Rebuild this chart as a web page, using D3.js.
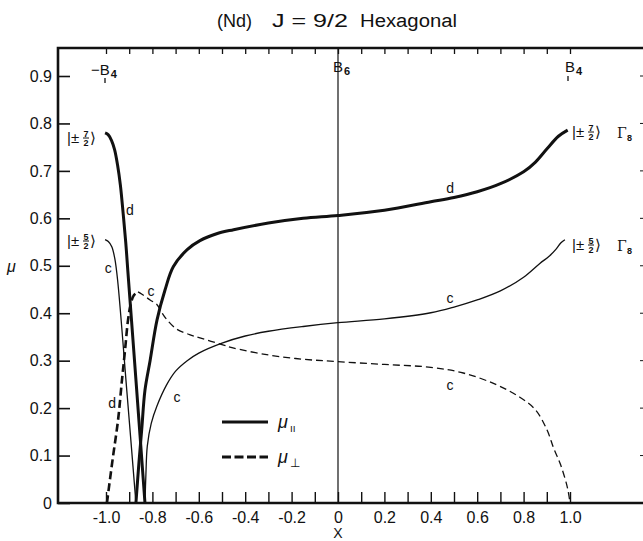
<!DOCTYPE html>
<html>
<head>
<meta charset="utf-8">
<script src="https://cdn.jsdelivr.net/npm/d3@7"></script>
<style>
  body { margin: 0; background: #fff; }
  svg { display: block; }
  text { font-family: "Liberation Sans", Arial, sans-serif; fill: #111; }
</style>
</head>
<body>
<svg id="chart" width="643" height="541"></svg>
<script>
// ---- magnetic moment curves, mu vs X (each entry is [X, mu]) ----
// mu parallel, level d (|±7/2> at X = ±1)
const parD_left = [[-1.004,0.780],[-0.99,0.776],[-0.976,0.764],[-0.963,0.745],[-0.95,0.712],[-0.938,0.67],[-0.926,0.61],[-0.915,0.55],[-0.906,0.49],[-0.868,0.24],[-0.832,0.0]];
const parD_right = [[-0.871,0.0],[-0.858,0.085],[-0.846,0.155],[-0.832,0.238],[-0.81,0.3],[-0.78,0.386],[-0.745,0.45],[-0.71,0.498],[-0.65,0.534],[-0.595,0.553],[-0.52,0.568],[-0.45,0.576],[-0.3,0.59],[-0.15,0.6],[0,0.606],[0.2,0.617],[0.4,0.635],[0.5,0.644],[0.6,0.656],[0.7,0.673],[0.8,0.698],[0.85,0.718],[0.9,0.746],[0.95,0.773],[0.99,0.786]];
// mu parallel, level c (|±5/2> at X = ±1)
const parC_left = [[-1.004,0.555],[-0.99,0.551],[-0.975,0.54],[-0.962,0.515],[-0.95,0.47],[-0.91,0.235],[-0.871,0.0]];
const parC_right = [[-0.832,0.0],[-0.828,0.06],[-0.822,0.12],[-0.805,0.168],[-0.78,0.205],[-0.74,0.248],[-0.7,0.278],[-0.65,0.3],[-0.6,0.316],[-0.5,0.337],[-0.4,0.352],[-0.3,0.362],[-0.15,0.372],[0,0.38],[0.2,0.388],[0.4,0.401],[0.5,0.413],[0.6,0.428],[0.7,0.447],[0.8,0.476],[0.87,0.505],[0.91,0.52],[0.94,0.535],[0.96,0.548],[0.978,0.555]];
// mu perpendicular, level d and level c
const perpD = [[-0.996,0.0],[-0.972,0.09],[-0.948,0.175],[-0.931,0.26],[-0.918,0.322],[-0.905,0.386],[-0.893,0.42],[-0.88,0.438],[-0.862,0.445]];
const perpC = [[-0.862,0.445],[-0.845,0.44],[-0.81,0.428],[-0.78,0.418],[-0.76,0.402],[-0.737,0.386],[-0.694,0.366],[-0.64,0.355],[-0.595,0.348],[-0.5,0.334],[-0.453,0.327],[-0.3,0.312],[-0.15,0.303],[0,0.298],[0.2,0.292],[0.4,0.286],[0.54,0.274],[0.68,0.25],[0.78,0.224],[0.85,0.197],[0.9,0.155],[0.93,0.115],[0.96,0.08],[0.99,0.03],[1.0,0.0]];

// ---- ticks and labels ----
const yTicks = [0, 0.1, 0.2, 0.3, 0.4, 0.5, 0.6, 0.7, 0.8, 0.9];
const xTicks = d3.range(-10, 11).map(i => i / 10);
const xLabelled = [-1.0, -0.8, -0.6, -0.4, -0.2, 0, 0.2, 0.4, 0.6, 0.8, 1.0];
const topMarkX = [-1, 0, 1];
const topMarkText = ["\u2212B", "B", "B"];
const topMarkSub = ["4", "6", "4"];
const titleParts = ["(Nd)", "J = 9/2", "Hexagonal"];
// level tags written beside the curves: [X, mu, tag]
const curveTags = [[-0.897,0.618,"d"],[-0.99,0.495,"c"],[-0.806,0.447,"c"],[-0.974,0.211,"d"],[-0.694,0.224,"c"],[0.483,0.664,"d"],[0.483,0.432,"c"],[0.483,0.249,"c"]];

const svg = d3.select("#chart");
const ink = "#111";

const x = d3.scaleLinear().domain([-1, 1]).range([106, 570]);
const y = d3.scaleLinear().domain([0, 0.9]).range([503, 76]);
const frameL = 58, frameR = 643, frameT = 48, frameB = y(0);

// title, in three spaced groups
const titleX = [217, 272, 360], titleW = [35, 76, 97];
svg.append("g").selectAll("text").data(titleParts).join("text")
  .attr("x", (d, i) => titleX[i]).attr("y", 27)
  .attr("textLength", (d, i) => titleW[i]).attr("lengthAdjust", "spacingAndGlyphs")
  .style("font-size", "18px").text(d => d);

// vertical line at X = 0 (B6 limit)
svg.append("line").attr("x1", x(0)).attr("x2", x(0)).attr("y1", frameT).attr("y2", frameB)
  .attr("stroke", ink).attr("stroke-width", 1.2);

// left axis
const yAxis = svg.append("g").attr("transform", `translate(${frameL},0)`)
  .call(d3.axisLeft(y).tickValues(yTicks).tickSize(-12).tickPadding(6)
    .tickFormat(d => d === 0 ? "0" : d3.format(".1f")(d)));
yAxis.select(".domain").remove();
yAxis.selectAll(".tick line").attr("stroke", ink).attr("stroke-width", 1.6);
yAxis.selectAll("text").style("font-size", "16px").style("font-family", "Liberation Sans, Arial, sans-serif").attr("fill", ink);

// bottom axis
const xAxis = svg.append("g").attr("transform", `translate(0,${frameB})`)
  .call(d3.axisBottom(x).tickValues(xTicks).tickSize(-11)
    .tickFormat(d => {
      const r = Math.round(d * 10) / 10;
      if (!xLabelled.some(v => Math.abs(v - r) < 1e-9)) return "";
      return r === 0 ? "0" : d3.format(".1f")(r).replace("\u2212", "-");
    }));
xAxis.select(".domain").remove();
xAxis.selectAll(".tick line").attr("stroke", ink).attr("stroke-width", 1.4);
xAxis.selectAll("text").attr("y", 20).attr("dy", 0).style("font-size", "16px")
  .style("font-family", "Liberation Sans, Arial, sans-serif").attr("fill", ink);

// top axis ticks
const tAxis = svg.append("g").attr("transform", `translate(0,${frameT})`)
  .call(d3.axisTop(x).tickValues(xTicks).tickSize(-6).tickFormat(""));
tAxis.select(".domain").remove();
tAxis.selectAll(".tick line").attr("stroke", ink).attr("stroke-width", 1.3);

// right edge ticks
svg.append("g").selectAll("line").data(yTicks.filter(v => v > 0)).join("line")
  .attr("x1", frameR - 3).attr("x2", frameR).attr("y1", d => y(d)).attr("y2", d => y(d))
  .attr("stroke", ink).attr("stroke-width", 1);

// frame
svg.append("path")
  .attr("d", `M${frameR},${frameT}H${frameL}V${frameB}H${frameR}`)
  .attr("fill", "none").attr("stroke", ink).attr("stroke-width", 2.6);

// B4 / B6 limits along the top
topMarkX.forEach((v, i) => {
  const g = svg.append("g");
  const bx = i === 0 ? x(v) - 15 : x(v) - 5;
  const by = i === 0 ? 75 : 72;
  g.append("text").attr("x", bx).attr("y", by).style("font-size", "15px").text(topMarkText[i])
    .each(function () {
      const w = this.getComputedTextLength();
      g.append("text").attr("x", bx + w + 1).attr("y", by + 3).style("font-size", "11px")
        .style("font-weight", "bold").text(topMarkSub[i]);
    });
  if (i !== 1) {
    const tx = i === 0 ? x(v) - 1 : x(v) - 2;
    const ty = i === 0 ? 78 : 76;
    g.append("line").attr("x1", tx).attr("x2", tx).attr("y1", ty).attr("y2", ty + 5)
      .attr("stroke", ink).attr("stroke-width", 1.3);
  }
});

// curves
const line = d3.line().x(d => x(d[0])).y(d => y(d[1])).curve(d3.curveCatmullRom.alpha(0.5));
const curves = [
  { data: parD_left, w: 3, dash: null },
  { data: parD_right, w: 3, dash: null },
  { data: parC_left, w: 1.3, dash: null },
  { data: parC_right, w: 1.3, dash: null },
  { data: perpD, w: 2.6, dash: "8,4" },
  { data: perpC, w: 1.3, dash: "7,4" }
];
svg.append("g").selectAll("path").data(curves).join("path")
  .attr("d", d => line(d.data))
  .attr("fill", "none").attr("stroke", ink)
  .attr("stroke-width", d => d.w)
  .attr("stroke-dasharray", d => d.dash)
  .attr("stroke-linejoin", "round");

// level tags
svg.append("g").selectAll("text").data(curveTags).join("text")
  .attr("x", d => x(d[0])).attr("y", d => y(d[1]))
  .attr("text-anchor", "middle").attr("dy", "0.35em")
  .style("font-size", "14px").text(d => d[2]);

// state kets |±m/2> at the ends of the curves
function ket(x0, cy, num, den, gamma) {
  const g = svg.append("g").attr("transform", `translate(${x0},${cy})`);
  g.append("text").attr("x", 0).attr("y", 5).style("font-size", "15px").text("|\u00b1");
  g.append("text").attr("x", 19).attr("y", -1.5).attr("text-anchor", "middle")
    .style("font-size", "9px").style("font-weight", "bold").text(num);
  g.append("line").attr("x1", 16).attr("x2", 22).attr("y1", 0).attr("y2", 0)
    .attr("stroke", ink).attr("stroke-width", 1);
  g.append("text").attr("x", 19).attr("y", 8).attr("text-anchor", "middle")
    .style("font-size", "9px").style("font-weight", "bold").text(den);
  g.append("text").attr("x", 23).attr("y", 5).style("font-size", "15px")
    .style("font-family", "DejaVu Sans, sans-serif").text("\u27e9");
  if (gamma) {
    g.append("text").attr("x", 45).attr("y", 6).style("font-size", "14px")
      .style("font-family", "DejaVu Serif, serif").text("\u0393");
    g.append("text").attr("x", 55).attr("y", 9).style("font-size", "9px")
      .style("font-weight", "bold").text("8");
  }
}
ket(67, 138, "7", "2", false);
ket(67, 241, "5", "2", false);
ket(572, 132, "7", "2", true);
ket(572, 245, "5", "2", true);

// legend
const legend = svg.append("g");
legend.append("line").attr("x1", 222).attr("x2", 268).attr("y1", 422).attr("y2", 422)
  .attr("stroke", ink).attr("stroke-width", 3);
legend.append("line").attr("x1", 222).attr("x2", 268).attr("y1", 457).attr("y2", 457)
  .attr("stroke", ink).attr("stroke-width", 3).attr("stroke-dasharray", "9,3.5");
legend.append("text").attr("x", 278).attr("y", 428).style("font-size", "18px")
  .style("font-style", "italic").text("\u03bc");
legend.append("text").attr("x", 290).attr("y", 432).style("font-size", "10px")
  .style("font-family", "DejaVu Sans, sans-serif").text("\u0131\u0131");
legend.append("text").attr("x", 278).attr("y", 463).style("font-size", "18px")
  .style("font-style", "italic").text("\u03bc");
legend.append("text").attr("x", 290).attr("y", 467).style("font-size", "12px")
  .style("font-family", "DejaVu Sans, sans-serif").text("\u22a5");

// axis titles
svg.append("text").attr("x", 7).attr("y", 272).style("font-size", "16px")
  .style("font-style", "italic").text("\u03bc");
svg.append("text").attr("x", x(0)).attr("y", 538).attr("text-anchor", "middle")
  .style("font-size", "14px").text("X");
</script>
</body>
</html>
